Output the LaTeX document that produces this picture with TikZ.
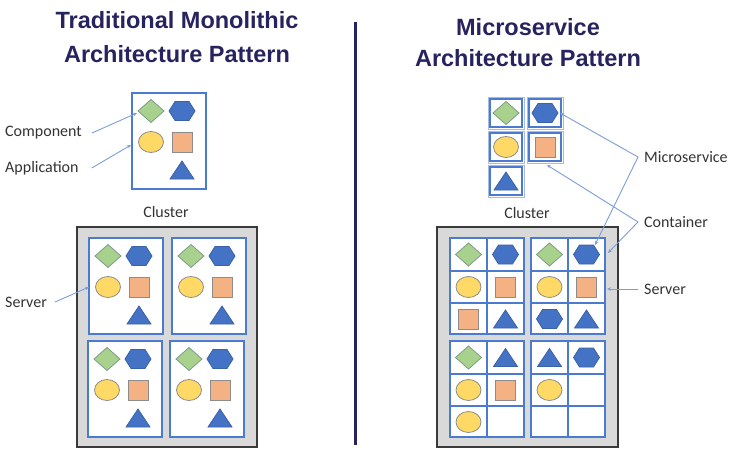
\documentclass[tikz,border=0pt]{standalone}
\usepackage{fontspec}
\setmainfont{Carlito}
\newfontfamily\titlefont{Liberation Sans}
\usetikzlibrary{arrows.meta}
\definecolor{navy}{HTML}{26235E}
\definecolor{boxblue}{HTML}{4A7BD0}
\definecolor{lineblue}{HTML}{7B9DD8}
\definecolor{hexblue}{HTML}{4472C4}
\definecolor{hexblueb}{HTML}{3A62A8}
\definecolor{cgreen}{HTML}{A9D18E}
\definecolor{cgreenb}{HTML}{7E9C8A}
\definecolor{cyellow}{HTML}{FFD966}
\definecolor{csalmon}{HTML}{F4B183}
\definecolor{shapeb}{HTML}{8C8C8C}
\definecolor{clgray}{HTML}{D9D9D9}
\definecolor{clborder}{HTML}{3A3A3A}
\definecolor{txtgray}{HTML}{333333}
\definecolor{ctrlight}{HTML}{A9BCE0}
\newcommand\ctrrect[4]{%
  \draw[draw=ctrlight,line width=1pt,fill=white] (#1,#2) rectangle (#3,#4);
  \draw[draw=boxblue,line width=1.1pt] (#1+2,#2+2) rectangle (#3-2,#4-2);}
\begin{document}
\begin{tikzpicture}[x=1pt,y=-1pt,
  ttl/.style={font=\titlefont\bfseries\fontsize{23.5}{28}\selectfont, text=navy, inner sep=0pt},
  lbl/.style={font=\fontsize{16}{19}\selectfont, text=txtgray, inner sep=4pt},
  conn/.style={draw=lineblue, line width=0.9pt, -{Stealth[length=4pt,width=3.5pt]}},
  srvbox/.style={draw=boxblue, line width=1.5pt, fill=white},
  clbox/.style={draw=clborder, line width=2pt, fill=clgray},
  pdia/.pic={\draw[fill=cgreen,draw=cgreenb,line width=0.8pt] (-13,0)--(0,-11.5)--(13,0)--(0,11.5)--cycle;},
  phex/.pic={\draw[fill=hexblue,draw=hexblueb,line width=0.8pt] (-13,0)--(-7,-9.5)--(7,-9.5)--(13,0)--(7,9.5)--(-7,9.5)--cycle;},
  pell/.pic={\draw[fill=cyellow,draw=shapeb,line width=0.8pt] (0,0) ellipse [x radius=12.5pt,y radius=10.5pt];},
  psq/.pic={\draw[fill=csalmon,draw=shapeb,line width=0.8pt] (-10,-10) rectangle (10,10);},
  ptri/.pic={\draw[fill=hexblue,draw=hexblueb,line width=0.8pt] (-12,9)--(12,9)--(0,-9)--cycle;},
  mono/.pic={\draw[srvbox] (0,0) rectangle (74,96);
    \pic at (19,18) {pdia}; \pic at (50,18) {phex};
    \pic at (19,49) {pell}; \pic at (50,49) {psq};
    \pic at (50,77) {ptri};},
  grid/.pic={\draw[srvbox] (0,0) rectangle (74,96);
    \draw[boxblue,line width=1.5pt] (37,0)--(37,96) (0,33)--(74,33) (0,65)--(74,65);}
]
\useasboundingbox (0,0) rectangle (740,463);

% titles
\node[ttl,anchor=base] (t1a) at (177,28) {Traditional Monolithic};
\node[ttl,anchor=base] (t1b) at (177,63) {Architecture Pattern};
\node[ttl,anchor=base] (t2a) at (528,35) {Microservice};
\node[ttl,anchor=base] (t2b) at (528,66) {Architecture Pattern};
\draw[navy,line width=3pt] (355,22) -- (355,445);

% ---------- left side ----------
\pic at (132,93) {mono};
\node[lbl] (cll) at (166,212) {Cluster};
\draw[clbox] (77,227) rectangle (257,447);
\pic at (89,238) {mono};
\pic at (172,238) {mono};
\pic at (88,341) {mono};
\pic at (170,341) {mono};

\node[lbl,anchor=west] (comp) at (1,133) {Component};
\node[lbl,anchor=west] (appl) at (1,168) {Application};
\node[lbl,anchor=west] (srvl) at (1,302) {Server};
\coordinate (diaL) at (137,113);
\coordinate (appE) at (131,145);
\coordinate (srvE) at (89,287);
\draw[conn] ([xshift=6pt]comp.east) -- (diaL);
\draw[conn] ([xshift=9pt]appl.east) -- (appE);
\draw[conn] ([xshift=4pt]srvl.east) -- (srvE);

% ---------- right side ----------
\ctrrect{488}{97}{524}{129}
\ctrrect{527}{97}{563}{129}
\ctrrect{488}{131}{524}{163}
\ctrrect{527}{131}{563}{163}
\ctrrect{488}{165}{524}{197}
\pic at (506,113) {pdia};
\pic at (545,113) {phex};
\pic at (506,147) {pell};
\pic at (545,147) {psq};
\pic at (506,181) {ptri};
\node[lbl] (clr) at (527,213) {Cluster};

\draw[clbox] (437,227) rectangle (618,447);
\pic at (450,238) {grid};
\pic at (531,238) {grid};
\pic at (450,341) {grid};
\pic at (531,341) {grid};
% top-left server
\pic at (468.5,254.5) {pdia}; \pic at (505.5,254.5) {phex};
\pic at (468.5,287) {pell};   \pic at (505.5,287) {psq};
\pic at (468.5,319) {psq};    \pic at (505.5,319) {ptri};
% top-right server
\pic at (549.5,254.5) {pdia}; \pic at (586.5,254.5) {phex};
\pic at (549.5,287) {pell};   \pic at (586.5,287) {psq};
\pic at (549.5,319) {phex};   \pic at (586.5,319) {ptri};
% bottom-left server
\pic at (468.5,357.5) {pdia}; \pic at (505.5,357.5) {ptri};
\pic at (468.5,390) {pell};   \pic at (505.5,390) {psq};
\pic at (468.5,422) {pell};
% bottom-right server
\pic at (549.5,357.5) {ptri}; \pic at (586.5,357.5) {phex};
\pic at (549.5,390) {pell};

\node[lbl,anchor=west] (msl) at (640,157) {Microservice};
\node[lbl,anchor=west] (ctl) at (640,222) {Container};
\node[lbl,anchor=west] (svr) at (640,289) {Server};
\coordinate (hexT) at (560,113);
\coordinate (hexG) at (595,245);
\coordinate (sqT) at (547,165);
\coordinate (cellG) at (608,253);
\coordinate (srvR) at (607,289);
\draw[conn] ([xshift=-2pt]msl.west) -- (hexT);
\draw[conn] ([xshift=-2pt]msl.west) -- (hexG);
\draw[conn] ([xshift=-2pt]ctl.west) -- (sqT);
\draw[conn] ([xshift=-2pt]ctl.west) -- (cellG);
\draw[conn] ([xshift=-2pt]svr.west) -- (srvR);
\end{tikzpicture}
\end{document}
